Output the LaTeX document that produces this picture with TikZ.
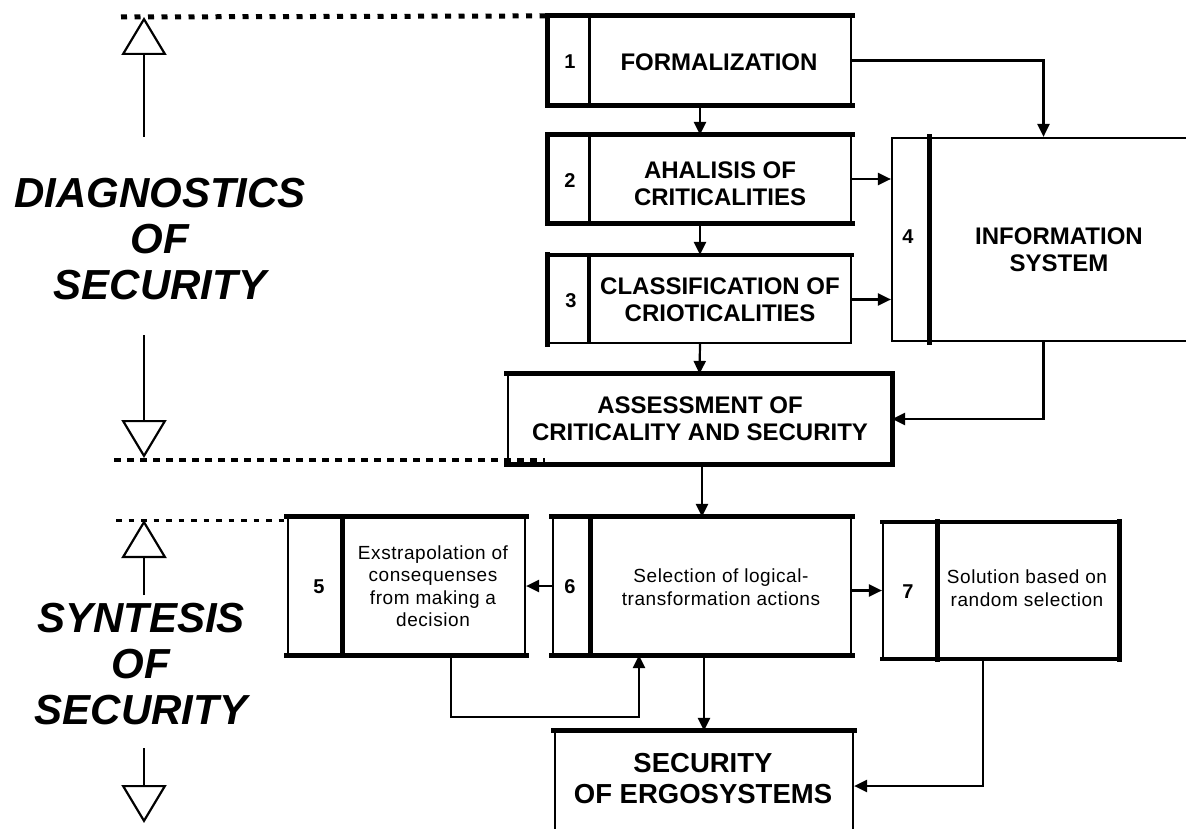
\documentclass[tikz,border=0pt]{standalone}
\usepackage{fontspec}
\setmainfont{Liberation Sans}
\usetikzlibrary{arrows.meta}
\begin{document}
\begin{tikzpicture}[x=1pt,y=-1pt,
  boxn/.style={draw, line width=2.2pt, inner sep=0pt},
  thk/.style={line width=5pt, line cap=rect},
  midl/.style={line width=3.5pt, line cap=rect},
  conn/.style={line width=2.2pt, -{Triangle[length=13pt,width=12pt]}},
  big/.style={font=\fontsize{24}{27}\selectfont\bfseries, align=center, inner sep=0pt},
  num/.style={font=\fontsize{20}{22}\selectfont\bfseries, inner sep=0pt},
  small/.style={font=\fontsize{19}{22.5}\selectfont\addfontfeature{LetterSpace=3}, align=center, inner sep=0pt},
  side/.style={font=\fontsize{42}{46}\selectfont\bfseries\itshape, align=center, inner sep=0pt},
  hollow/.style={line width=2.2pt, -{Triangle[open, length=38pt, width=45pt, line width=2.2pt]}},
  dotsA/.style={line width=5pt, dash pattern=on 6pt off 7.5pt},
  dotsB/.style={line width=3.5pt, dash pattern=on 7pt off 6pt},
  dotsC/.style={line width=3pt, dash pattern=on 5.5pt off 7pt},
]
\useasboundingbox (0,0) rectangle (1186,829);

% ---------- boxes ----------
\node[boxn, minimum width=302pt, minimum height=87pt] (b1) at (700,60.5) {};
\node[boxn, minimum width=302pt, minimum height=86pt] (b2) at (700,179) {};
\node[boxn, minimum width=302pt, minimum height=87pt] (b3) at (700,299.5) {};
\node[boxn, minimum width=303pt, minimum height=203pt] (b4) at (1043.5,239.5) {};
\node[boxn, minimum width=383pt, minimum height=88pt] (ba) at (699.5,419) {};
\node[boxn, minimum width=237pt, minimum height=136pt] (b5) at (406.5,586) {};
\node[boxn, minimum width=298pt, minimum height=136pt] (b6) at (702,586) {};
\node[boxn, minimum width=235pt, minimum height=135pt] (b7) at (1000.5,590.5) {};
\node[boxn, minimum width=298pt, minimum height=136pt] (bs) at (704,800) {};

% divider positions
\coordinate (d1) at (589,0);
\coordinate (d4) at (929,0);
\coordinate (d5) at (342,0);
\coordinate (d6) at (590,0);
\coordinate (d7) at (937,0);

% thick edges
\draw[thk] (b1.south west) -- (b1.north west) -- (b1.north east);
\draw[thk] (b1.south west) -- (b1.south east);
\draw[line width=3pt] (b1.north -| d1) -- (b1.south -| d1);

\draw[thk] (b2.south west) -- (b2.north west) -- (b2.north east);
\draw[thk] (b2.south west) -- (b2.south east);
\draw[line width=3pt] (b2.north -| d1) -- (b2.south -| d1);

\draw[thk] (b3.south west) -- (b3.north west);
\draw[midl] (b3.north west) -- (b3.north east);
\draw[line width=3.5pt] (b3.north -| d1) -- (b3.south -| d1);

\draw[thk] (ba.north west) -- (ba.north east) -- (ba.south east) -- (ba.south west);

\draw[thk] (b4.north -| d4) -- (b4.south -| d4);

\draw[thk] (b5.north west) -- (b5.north east);
\draw[thk] (b5.south west) -- (b5.south east);
\draw[thk] (b5.north -| d5) -- (b5.south -| d5);

\draw[thk] (b6.north west) -- (b6.north east);
\draw[thk] (b6.south west) -- (b6.south east);
\draw[thk] (b6.north -| d6) -- (b6.south -| d6);

\draw[midl] (b7.north west) -- (b7.north east);
\draw[midl] (b7.south west) -- (b7.south east);
\draw[thk] (b7.north east) -- (b7.south east);
\draw[thk] (b7.north -| d7) -- (b7.south -| d7);

\draw[thk] (bs.north west) -- (bs.north east);

% ---------- texts ----------
\node[num] (n1) at (570,62) {1};
\node[num] (n2) at (570,181) {2};
\node[num] (n3) at (571,301) {3};
\node[num] (n4) at (908,237) {4};
\node[num] (n5) at (319,587) {5};
\node[num] (n6) at (570,587) {6};
\node[num] (n7) at (908,592) {7};

\node[big] (t1) at (719,62) {FORMALIZATION};
\node[big] (t2) at (720,184) {AHALISIS OF\\CRITICALITIES};
\node[big] (t3) at (720,300) {CLASSIFICATION OF\\CRIOTICALITIES};
\node[big] (ta) at (700,419) {ASSESSMENT OF\\CRITICALITY AND SECURITY};
\node[big] (t4) at (1059,250) {INFORMATION\\SYSTEM};
\node[font=\fontsize{27.5}{31}\selectfont\bfseries, align=center, inner sep=0pt] (ts) at (703,778.5) {SECURITY\\OF ERGOSYSTEMS};

\node[small] (t5) at (433,586) {Exstrapolation of\\consequenses\\from making a\\decision};
\node[small] (t6) at (721,587) {Selection of logical-\\transformation actions};
\node[small] (t7) at (1027,588) {Solution based on\\random selection};

\node[side] (sd) at (160,239) {DIAGNOSTICS\\OF\\SECURITY};
\node[side] (ss) at (141,664) {SYNTESIS\\OF\\SECURITY};

% ---------- connectors ----------
\draw[conn] (b1.south) -- (b2.north);
\draw[conn] (b2.south) -- (b3.north);
\draw[conn] (b3.south) -- (ba.north);
\draw[conn] (b1.east) -- (b1.east -| b4.north) -- (b4.north);
\draw[conn] (b2.east) -- (b2.east -| b4.west);
\draw[conn] (b3.east) -- (b3.east -| b4.west);
\draw[conn] (b4.south) |- (ba.east);
\draw[conn] (ba.south -| b6.north) -- (b6.north);
\draw[conn] (b6.west) -- (b5.east);
\draw[conn] (b6.east |- b7.west) -- (b7.west);
\coordinate (loopL) at (451,717);
\coordinate (loopR) at (639,717);
\draw[conn] (b5.south -| loopL) -- (loopL) -- (loopR) -- (b6.south -| loopR);
\draw[conn] (b6.south -| bs.north) -- (bs.north);
\coordinate (r7) at (983,786);
\draw[conn] (b7.south -| r7) -- (r7) -- (r7 -| bs.east);

% ---------- side arrows and dotted separators ----------
\draw[hollow] (144,137) -- (144,17);
\draw[hollow] (144,335) -- (144,458);
\draw[hollow] (144,595) -- (144,520);
\draw[hollow] (144,748) -- (144,823);

\draw[dotsA] (121,17) -- (b1.north west);
\draw[dotsB] (114,460) -- (545,460);
\draw[dotsC] (116,520) -- (b5.north west |- 0,520);
\end{tikzpicture}
\end{document}
